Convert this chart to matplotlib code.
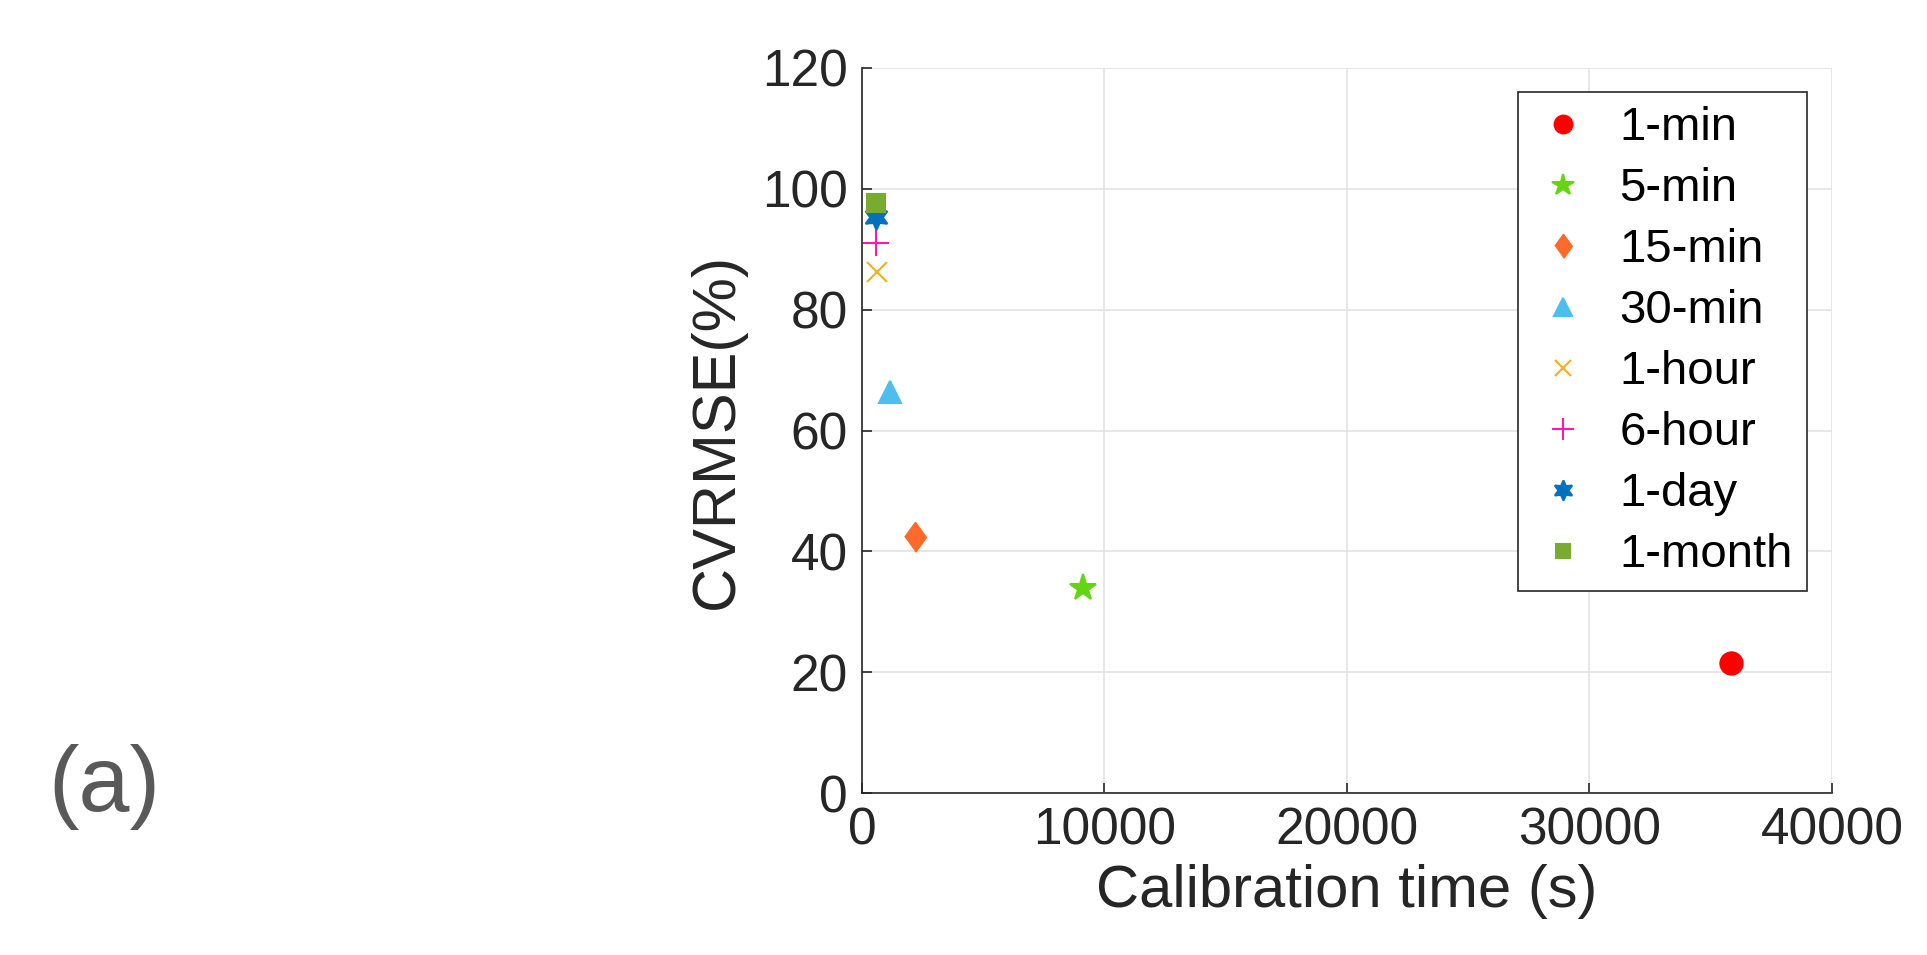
import matplotlib
matplotlib.use('Agg')
import matplotlib.pyplot as plt
import numpy as np

# data
labels = ['1-min', '5-min', '15-min', '30-min', '1-hour', '6-hour', '1-day', '1-month']
calib_time = [35850, 9100, 2180, 1140, 630, 600, 560, 565]
cvrmse = [21.5, 33.9, 42.3, 66.4, 86.2, 91.0, 95.4, 97.6]

colors = ['#FF0000', '#64D413', '#FF6A2B', '#4DBEEE', '#EDB120', '#FF1AA8', '#0072BD', '#77AC30']
markers = ['o', '*', [(0, -1), (0.72, 0), (0, 1), (-0.72, 0)], '^', 'x', '+', (6, 1, 0), 's']
sizes = [16, 20, 21, 16, 14, 19, 18, 13]

plt.rcParams['font.family'] = ['Liberation Sans', 'DejaVu Sans']

fig = plt.figure(figsize=(19.27, 9.55), dpi=100)
ax = fig.add_axes([0.4473, 0.1696, 0.5034, 0.7592])

for i in range(len(labels)):
    ax.plot(calib_time[i], cvrmse[i], linestyle='none', marker=markers[i],
            color=colors[i], markersize=sizes[i], markeredgewidth=1.5,
            label=labels[i], zorder=3)

ax.set_xlim(0, 40000)
ax.set_ylim(0, 120)
ax.set_xticks(np.arange(0, 40001, 10000))
ax.set_yticks(np.arange(0, 121, 20))
ax.grid(True, color='#E3E3E3', linewidth=1.2, zorder=0)
ax.set_axisbelow(True)

for s in ['top', 'right']:
    ax.spines[s].set_visible(False)
for s in ['left', 'bottom']:
    ax.spines[s].set_color('#262626')
    ax.spines[s].set_linewidth(1.2)

ax.tick_params(direction='in', length=7, width=1.2, colors='#262626',
               labelsize=37, pad=10)
ax.set_xlabel('Calibration time (s)', fontsize=43, color='#262626', labelpad=6)
ax.set_ylabel('CVRMSE(%)', fontsize=44, color='#262626', labelpad=12)

leg = ax.legend(loc='upper right', bbox_to_anchor=(0.974, 0.967), borderaxespad=0,
                fontsize=34, markerscale=0.8, labelspacing=0.36, handletextpad=0.55,
                handlelength=1.3, borderpad=0.3, fancybox=False, framealpha=1)
leg.get_frame().set_edgecolor('#262626')
leg.get_frame().set_linewidth(1.2)

fig.text(0.054, 0.176, '(a)', fontsize=66, color='#595959', ha='center', va='center')

plt.savefig('out.png', dpi=100)
